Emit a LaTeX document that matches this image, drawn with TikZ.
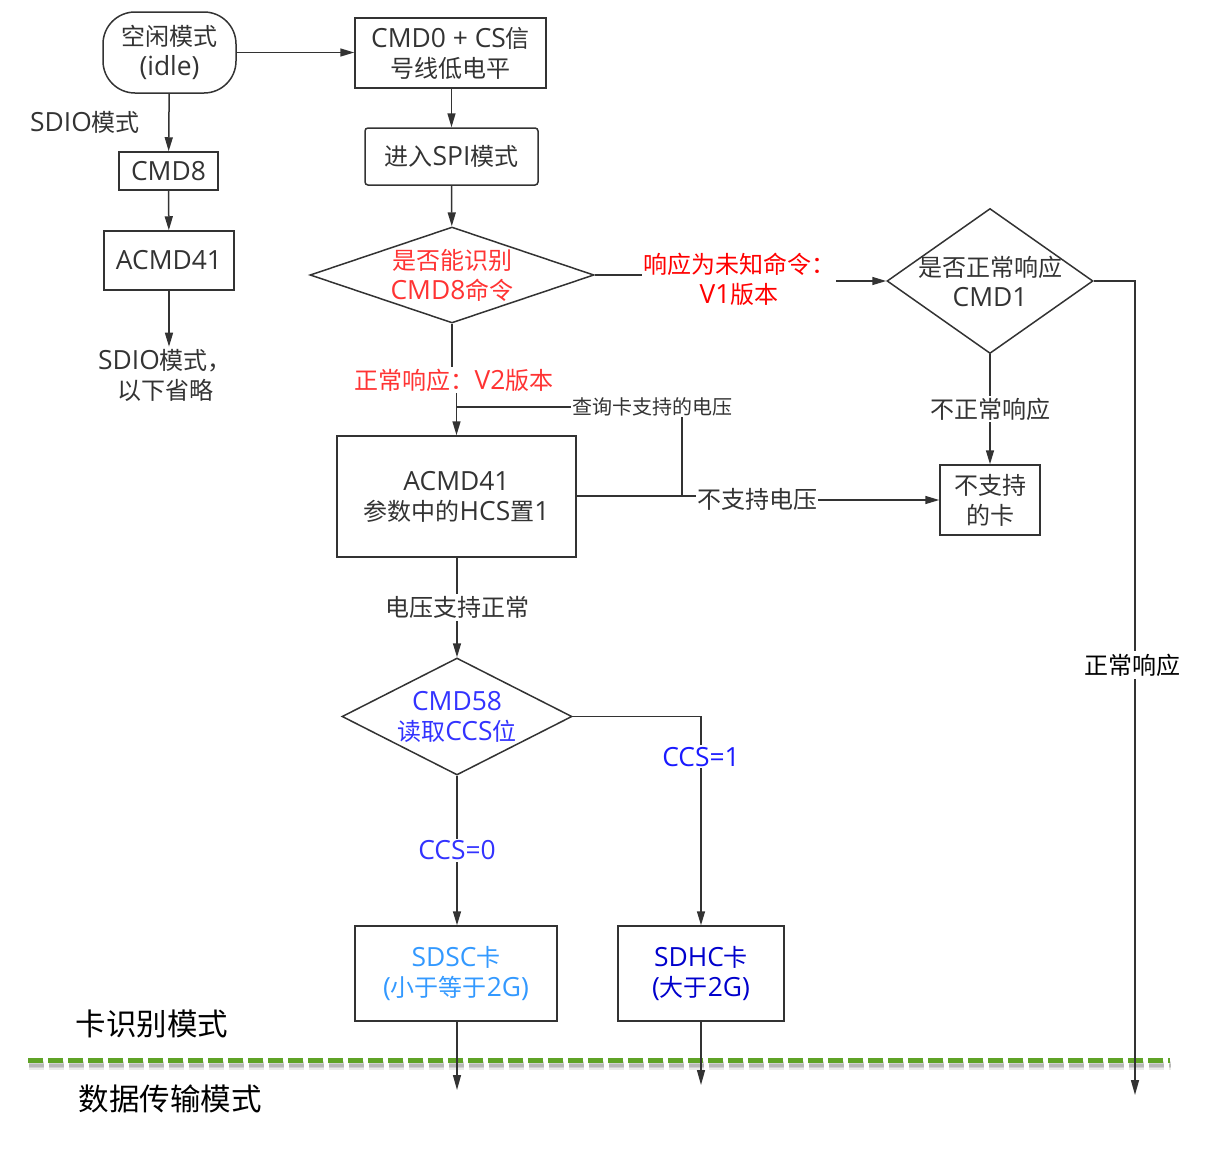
\documentclass[tikz,border=0pt]{standalone}
\usepackage{fontspec}
\setmainfont{Noto Sans CJK SC}
\newfontfamily\lf[Scale=1.1]{Open Sans}
\usetikzlibrary{shapes.geometric,arrows.meta}
\definecolor{lc}{HTML}{333333}
\definecolor{redA}{HTML}{FF3333}
\definecolor{redB}{HTML}{FF0000}
\definecolor{blueA}{HTML}{3333FF}
\definecolor{blueB}{HTML}{1A1AFF}
\definecolor{blueC}{HTML}{3399FF}
\definecolor{blueD}{HTML}{0000CC}
\definecolor{grn}{HTML}{5FA326}
\begin{document}
\begin{tikzpicture}[x=1pt,y=-1pt,
  txt/.style={text=lc, font=\fontsize{24}{30}\selectfont, align=center, inner sep=1pt},
  box/.style={txt, draw=lc, line width=1.5pt, inner sep=0pt},
  dia/.style={draw=lc, line width=1.5pt, shape=diamond, inner sep=0pt},
  lbl/.style={txt, fill=white, inner sep=2pt},
  ln/.style={draw=lc, line width=1.5pt},
  arr/.style={draw=lc, line width=1.5pt, -{Triangle[length=14pt,width=8pt]}},
  thinarr/.style={draw=lc, line width=1.3pt, -{Triangle[length=15pt,width=8pt]}},
  rarr/.style={draw=lc, line width=1.5pt, -{Triangle[length=15pt,width=8pt]}},
  serif/.style={text=black, font=\fontsize{30.5}{36}\selectfont, inner sep=1pt},
  sep/.style={dash pattern=on 15pt off 5pt}
]
\useasboundingbox (0,0) rectangle (1227,1165);

% nodes
\node[box, minimum width=133, minimum height=81, rounded corners=32] (idle) at (169.5,52.5) {空闲模式\\{\lf (idle)}};
\node[box, minimum width=191, minimum height=70] (cmd0) at (450.5,53) {{\lf CMD0 + CS}信\\号线低电平};
\node[txt] (sdiolbl) at (85,122) {{\lf SDIO}模式};
\node[box, minimum width=99, minimum height=38] (cmd8) at (168.5,171) {\lf CMD8};
\node[box, minimum width=130, minimum height=59] (acmdL) at (169,260.5) {\lf ACMD41};
\node[txt, inner sep=2pt] (sdiotxt) at (165,375) {{\lf SDIO}模式，\\以下省略};
\node[box, minimum width=173, minimum height=57, rounded corners=3] (spi) at (451.5,156.5) {进入{\lf SPI}模式};
\node[dia, minimum width=284, minimum height=96,
  label={[txt,text=redA]center:{是否能识别\\{\lf CMD8}命令}}] (d1) at (452,275) {};
\node[txt, text=redB, inner sep=1pt] (v1lbl) at (739,279) {响应为未知命令：\\{\lf V1}版本};
\node[dia, minimum width=206, minimum height=145,
  label={[txt]center:{是否正常响应\\{\lf CMD1}}}] (d2) at (990,281) {};
\node[box, minimum width=100, minimum height=70] (bad) at (990,500) {不支持\\的卡};
\node[txt, text=redA, inner sep=2pt] (v2lbl) at (454,380) {正常响应：{\lf V2}版本};
\node[box, minimum width=239, minimum height=121] (acmd) at (456.5,496.5) {{\lf ACMD41}\\参数中的{\lf HCS}置{\lf 1}};
\node[txt, font=\fontsize{20}{24}\selectfont, inner sep=1pt] (qlbl) at (652,407) {查询卡支持的电压};
\node[txt, inner sep=1pt] (nolbl) at (757,499) {不支持电压};
\node[dia, minimum width=230, minimum height=117,
  label={[txt,text=blueA]center:{{\lf CMD58}\\读取{\lf CCS}位}}] (d3) at (457,716.5) {};
\node[box, minimum width=202, minimum height=95, text=blueC] (sdsc) at (456,973.5) {{\lf SDSC}卡\\{\lf (}小于等于{\lf 2G)}};
\node[box, minimum width=166, minimum height=95, text=blueD] (sdhc) at (701,973.5) {{\lf SDHC}卡\\{\lf (}大于{\lf 2G)}};
\node[serif] (mode1) at (152,1024) {卡识别模式};
\node[serif] (mode2) at (170,1099) {数据传输模式};
\coordinate (lp) at (682,496);
\coordinate (rc) at (1135,281);
\coordinate (e1) at (457,1090);
\coordinate (e2) at (701,1085);
\coordinate (e3) at (1135,1095);

% separator (with soft shadow)
\draw[black!8, line width=9pt, sep] (29,1065) -- (1171,1065);
\draw[black!18, line width=6pt, sep] (29,1065) -- (1171,1065);
\draw[black!28, line width=3pt, sep] (29,1065) -- (1171,1065);
\draw[grn, line width=5pt, sep] (28,1060) -- (1170,1060);

% connectors
\draw[arr] (idle.east) -- (cmd0.west |- idle.east);
\draw[arr] (idle) -- (cmd8);
\draw[arr] (cmd8) -- (acmdL);
\draw[arr] (acmdL.south) -- (acmdL.south |- sdiotxt.north);
\draw[arr] (cmd0.south -| spi.north) -- (spi.north);
\draw[arr] (spi) -- (d1);
\draw[ln] (d1.east) -- (v1lbl.west |- d1.east);
\draw[arr] (v1lbl.east |- d2.west) -- (d2.west);
\draw[arr] (d2.south) -- (bad.north);
\draw[rarr] (d2.east) -- (rc) -- (e3);
\draw[ln] (d1.south) -- (d1.south |- v2lbl.north);
\draw[arr] (v2lbl.south -| acmd.north) -- (acmd.north);
\draw[ln] (acmd.east |- lp) -- (lp) -- (lp |- qlbl.south);
\draw[ln] (qlbl.west) -- (qlbl.west -| acmd.north);
\draw[ln] (lp) -- (nolbl.west |- lp);
\draw[arr] (nolbl.east |- bad.west) -- (bad.west);
\draw[arr] (acmd.south -| d3.north) -- (d3.north);
\draw[arr] (d3.east) -| (sdhc.north);
\draw[arr] (d3.south) -- (d3.south |- sdsc.north);
\draw[thinarr] (sdsc.south -| e1) -- (e1);
\draw[thinarr] (sdhc.south) -- (e2);

% connector labels (drawn over the lines)
\path (d2.south) -- node[lbl] (badlbl) {不正常响应} (bad.north);
\node[lbl, text=black, font=\fontsize{24}{28}\selectfont, inner sep=3pt] (oklbl) at (1132,665) {正常响应};
\path (acmd.south -| d3.north) -- node[lbl] (vlbl) {电压支持正常} (d3.north);
\path (d3.east) -| node[lbl, pos=0.596, text=blueB] (c1lbl) {\lf CCS=1} (sdhc.north);
\path (d3.south) -- node[lbl, text=blueA] (c0lbl) {\lf CCS=0} (d3.south |- sdsc.north);
\end{tikzpicture}
\end{document}
